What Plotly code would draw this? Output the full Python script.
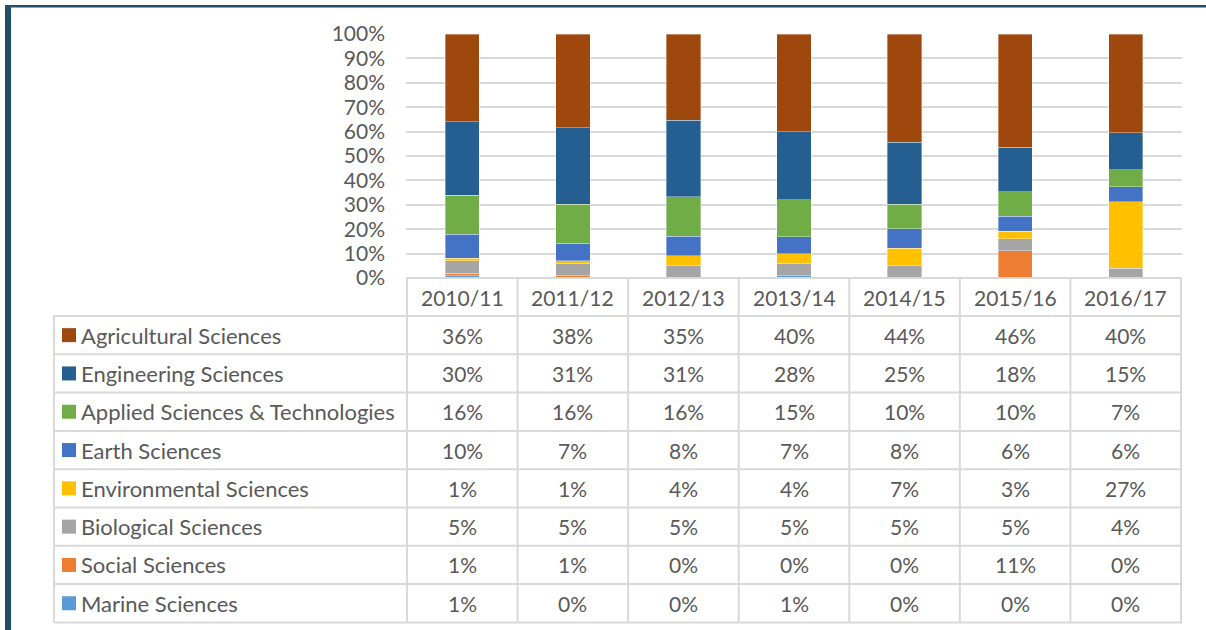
import plotly.graph_objects as go

# ---------------- data ----------------
years = ["2010/11", "2011/12", "2012/13", "2013/14", "2014/15", "2015/16", "2016/17"]

agricultural = [36, 38, 35, 40, 44, 46, 40]
engineering = [30, 31, 31, 28, 25, 18, 15]
applied = [16, 16, 16, 15, 10, 10, 7]
earth = [10, 7, 8, 7, 8, 6, 6]
environmental = [1, 1, 4, 4, 7, 3, 27]
biological = [5, 5, 5, 5, 5, 5, 4]
social = [1, 1, 0, 0, 0, 11, 0]
marine = [1, 0, 0, 1, 0, 0, 0]

series_names = ["Agricultural Sciences", "Engineering Sciences", "Applied Sciences & Technologies",
                "Earth Sciences", "Environmental Sciences", "Biological Sciences",
                "Social Sciences", "Marine Sciences"]
series_values = [agricultural, engineering, applied, earth, environmental, biological, social, marine]
series_colors = ["#9E480E", "#255E91", "#70AD47", "#4472C4", "#FFC000", "#A5A5A5", "#ED7D31", "#5B9BD5"]

# ---------------- layout geometry (pixels) ----------------
W, H = 1206, 630
PL, PR, PT, PB = 406, 1182, 34, 278      # plot area
ML, MR, MT, MB = PL, W - PR, PT, H - PB
TABLE_LEFT = 54
HEADER_BOTTOM = 316
ROW_H = 38.3
FONT = "Lato"
FS = 21
FS_NAME = 22
TXT = "#595959"
GRID = "#D9D9D9"
FRAME = "#1F5068"


def px2x(px):
    return (px - PL) / (PR - PL)


def px2y(py):
    return (PB - py) / (PB - PT)


fig = go.Figure()

# stacked bars, bottom first
for name, vals, col in reversed(list(zip(series_names, series_values, series_colors))):
    fig.add_trace(go.Bar(
        x=years, y=vals, name=name, marker=dict(color=col, line=dict(color="rgba(255,255,255,0.6)", width=0.6)),
        showlegend=False, hoverinfo="name+y"))

shapes = []
annotations = []

# header row labels (categories)
for yr in years:
    annotations.append(dict(x=yr, xref="x", y=px2y((PB + HEADER_BOTTOM) / 2), yref="paper",
                            text=yr, showarrow=False, xanchor="center", yanchor="middle",
                            font=dict(family=FONT, size=FS, color=TXT)))

# table vertical lines at category boundaries
ncat = len(years)
for i in range(ncat + 1):
    shapes.append(dict(type="line", xref="x", yref="paper", x0=i - 0.5, x1=i - 0.5,
                       y0=px2y(PB), y1=px2y(HEADER_BOTTOM + ROW_H * len(series_names)),
                       line=dict(color=GRID, width=2)))
# left edge of table
shapes.append(dict(type="line", xref="paper", yref="paper", x0=px2x(TABLE_LEFT), x1=px2x(TABLE_LEFT),
                   y0=px2y(HEADER_BOTTOM), y1=px2y(HEADER_BOTTOM + ROW_H * len(series_names)),
                   line=dict(color=GRID, width=2)))
# header top line
shapes.append(dict(type="line", xref="paper", yref="paper", x0=0, x1=1, y0=0, y1=0,
                   line=dict(color=GRID, width=2)))
# row lines
for r in range(len(series_names) + 1):
    yy = px2y(HEADER_BOTTOM + ROW_H * r)
    shapes.append(dict(type="line", xref="paper", yref="paper", x0=px2x(TABLE_LEFT), x1=1, y0=yy, y1=yy,
                       line=dict(color=GRID, width=2)))

# rows: legend key, name, values
for r, (name, vals, col) in enumerate(zip(series_names, series_values, series_colors)):
    cy = HEADER_BOTTOM + ROW_H * r + ROW_H / 2
    shapes.append(dict(type="rect", xref="paper", yref="paper",
                       x0=px2x(62), x1=px2x(76), y0=px2y(cy - 7), y1=px2y(cy + 7),
                       fillcolor=col, line=dict(width=0)))
    annotations.append(dict(x=px2x(79), xref="paper", y=px2y(cy), yref="paper", text=name,
                            showarrow=False, xanchor="left", yanchor="middle",
                            font=dict(family=FONT, size=FS_NAME, color=TXT)))
    for yr, v in zip(years, vals):
        annotations.append(dict(x=yr, xref="x", y=px2y(cy), yref="paper", text=f"{v}%",
                                showarrow=False, xanchor="center", yanchor="middle",
                                font=dict(family=FONT, size=FS, color=TXT)))

# outer frame (left + top)
shapes.append(dict(type="rect", xref="paper", yref="paper", x0=px2x(5), x1=px2x(11),
                   y0=px2y(5), y1=px2y(H), fillcolor=FRAME, line=dict(width=0)))
shapes.append(dict(type="rect", xref="paper", yref="paper", x0=px2x(5), x1=px2x(W),
                   y0=px2y(5), y1=px2y(7.5), fillcolor=FRAME, line=dict(width=0)))

fig.update_layout(
    width=W, height=H,
    margin=dict(l=ML, r=MR, t=MT, b=MB, pad=0),
    paper_bgcolor="white", plot_bgcolor="white",
    barmode="stack", barnorm="percent", bargap=0.69,
    font=dict(family=FONT, size=FS, color=TXT),
    xaxis=dict(showticklabels=False, showgrid=False, zeroline=False, showline=False, ticks=""),
    yaxis=dict(range=[0, 100], dtick=10, ticksuffix="%", showgrid=True, gridcolor=GRID, gridwidth=1.5,
               zeroline=False, showline=False, ticks="", ticklabelstandoff=20,
               tickfont=dict(family=FONT, size=FS, color=TXT)),
    shapes=shapes, annotations=annotations,
)

fig.write_html("out.html", config={"displayModeBar": False},
               post_script="document.body.style.margin='0';document.body.style.overflow='hidden';")
